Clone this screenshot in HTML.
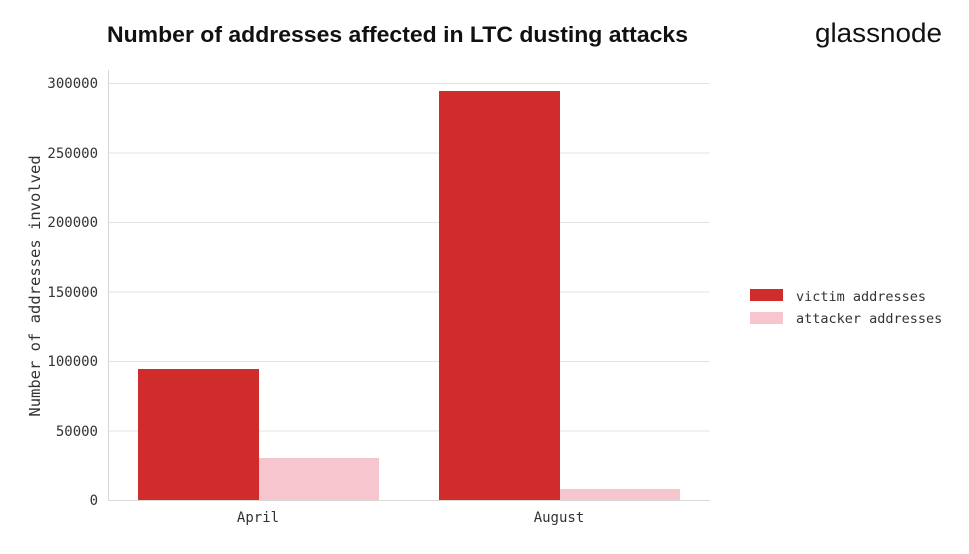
<!DOCTYPE html>
<html><head><meta charset="utf-8"><style>
body{margin:0;background:#fff;width:969px;height:549px;overflow:hidden;}
</style></head><body>
<svg width="969" height="549" xmlns="http://www.w3.org/2000/svg" font-family="'DejaVu Sans Mono','Liberation Mono',monospace">
<text x="107" y="42" font-family="'Liberation Sans',sans-serif" font-weight="bold" font-size="22" fill="#111" textLength="581" lengthAdjust="spacingAndGlyphs">Number of addresses affected in LTC dusting attacks</text>
<text x="942" y="42" text-anchor="end" font-family="'Liberation Sans',sans-serif" font-size="27" fill="#111" textLength="127" lengthAdjust="spacingAndGlyphs">glassnode</text>
<g stroke="#e3e3e3" stroke-width="1">
<line x1="108" y1="83.5" x2="710" y2="83.5"/>
<line x1="108" y1="153" x2="710" y2="153"/>
<line x1="108" y1="222.5" x2="710" y2="222.5"/>
<line x1="108" y1="292" x2="710" y2="292"/>
<line x1="108" y1="361.5" x2="710" y2="361.5"/>
<line x1="108" y1="431" x2="710" y2="431"/>
</g>
<line x1="108.5" y1="70" x2="108.5" y2="500" stroke="#d8d8d8"/>
<line x1="108" y1="500.5" x2="710" y2="500.5" stroke="#d8d8d8"/>
<g fill="#d12c2c">
<rect x="138" y="369" width="121" height="131"/>
<rect x="439" y="91" width="121" height="409"/>
</g>
<g fill="#f7c5cd">
<rect x="259" y="458" width="120" height="42"/>
<rect x="560" y="489" width="120" height="11"/>
</g>
<g font-size="14" fill="#333" text-anchor="end">
<text x="98" y="88">300000</text>
<text x="98" y="158">250000</text>
<text x="98" y="227">200000</text>
<text x="98" y="297">150000</text>
<text x="98" y="366">100000</text>
<text x="98" y="436">50000</text>
<text x="98" y="505">0</text>
</g>
<g font-size="14" fill="#333" text-anchor="middle">
<text x="258" y="522">April</text>
<text x="559" y="522">August</text>
</g>
<text transform="translate(40,286) rotate(-90)" text-anchor="middle" font-size="15.5" fill="#333">Number of addresses involved</text>
<rect x="750" y="289" width="33" height="12" fill="#d12c2c"/>
<rect x="750" y="312" width="33" height="12" fill="#f7c5cd"/>
<g font-size="13.5" fill="#333">
<text x="796" y="301">victim addresses</text>
<text x="796" y="323">attacker addresses</text>
</g>
</svg>
</body></html>
